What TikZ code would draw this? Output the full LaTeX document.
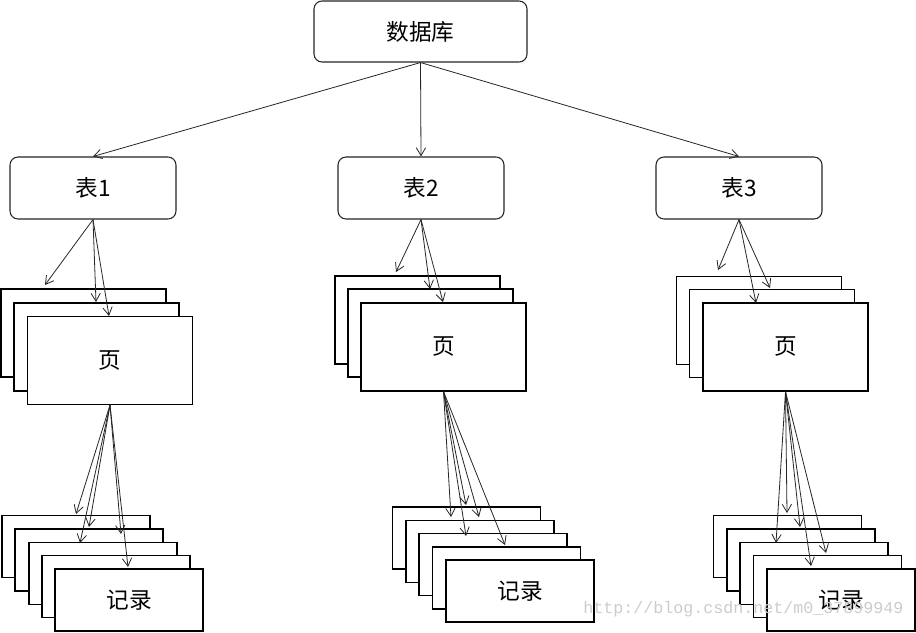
\documentclass[tikz,border=0pt]{standalone}
\usepackage{fontspec}
\setmainfont{Noto Sans CJK SC}
\newfontfamily\wmfont{Liberation Mono}
\usetikzlibrary{arrows.meta}
\tikzset{
  px/.style={x=0.75pt,y=-0.75pt},
  rbox/.style={draw=black!85,line width=0.8pt,rounded corners=6pt,fill=white,
    minimum width=124.5pt,minimum height=46.5pt,inner sep=0pt,font=\fontsize{17}{20}\selectfont},
  pagebox/.style={draw=black,line width=0.8pt,fill=white,
    minimum width=123.75pt,minimum height=66pt,inner sep=0pt,font=\fontsize{17}{20}\selectfont},
  recbox/.style={draw=black,line width=0.8pt,fill=white,
    minimum width=111pt,minimum height=46.5pt,inner sep=0pt,font=\fontsize{17}{20}\selectfont},
  arr/.style={draw=black!85,line width=0.6pt,-{Straight Barb[length=6pt,width=7pt]}}
}
\begin{document}
\begin{tikzpicture}[px]
\useasboundingbox[fill=white] (0,0) rectangle (916,632);
% top
\node[rbox,minimum width=159.75pt,minimum height=45.75pt] (db) at (420.5,31.5) {数据库};
\node[rbox] (t1) at (93,188) {表1};
\node[rbox] (t2) at (421,188) {表2};
\node[rbox] (t3) at (739,188) {表3};
% page stacks
\node[pagebox] (p1a) at (83.5,333) {};
\node[pagebox] (p1b) at (96.5,347) {};
\node[pagebox] (p1c) at (110,360.5) {页};
\node[pagebox] (p2a) at (417.5,320) {};
\node[pagebox] (p2b) at (430.5,333) {};
\node[pagebox] (p2c) at (443.5,347) {页};
\node[pagebox] (p3a) at (759,320.5) {};
\node[pagebox] (p3b) at (772,333.5) {};
\node[pagebox] (p3c) at (785.5,347) {页};
% record stacks
\node[recbox] (r1a) at (76,546.5) {};
\node[recbox] (r1b) at (89,560) {};
\node[recbox] (r1c) at (103,573.5) {};
\node[recbox] (r1d) at (116,586.5) {};
\node[recbox] (r1e) at (129,600) {记录};
\node[recbox] (r2a) at (466.5,538) {};
\node[recbox] (r2b) at (480,551.5) {};
\node[recbox] (r2c) at (493,564.5) {};
\node[recbox] (r2d) at (506.5,578) {};
\node[recbox] (r2e) at (520,591) {记录};
\node[recbox] (r3a) at (787.5,546.5) {};
\node[recbox] (r3b) at (801,560) {};
\node[recbox] (r3c) at (814,573.5) {};
\node[recbox] (r3d) at (827.5,586.5) {};
\node[recbox] (r3e) at (841,600) {记录};
% arrow end points
\coordinate (e11) at (45,285);  \coordinate (e12) at (96,302);  \coordinate (e13) at (109,316);
\coordinate (e21) at (396,272); \coordinate (e22) at (430,289); \coordinate (e23) at (443,302);
\coordinate (e31) at (718,270); \coordinate (e32) at (756,303); \coordinate (e33) at (770,288);
\coordinate (f11) at (76,514);  \coordinate (f12) at (89,527);  \coordinate (f13) at (80,543);
\coordinate (f14) at (121,534); \coordinate (f15) at (128,567);
\coordinate (f21) at (451,517); \coordinate (f22) at (466,505); \coordinate (f23) at (479,517);
\coordinate (f24) at (466,536); \coordinate (f25) at (505,545);
\coordinate (f31) at (787,513); \coordinate (f32) at (800,527); \coordinate (f33) at (776,543);
\coordinate (f34) at (826,553); \coordinate (f35) at (811,566);
% arrows
\draw[arr] (db.south) -- (t1.north);
\draw[arr] (db.south) -- (t2.north);
\draw[arr] (db.south) -- (t3.north);
\foreach \i in {1,2,3}{
  \draw[arr] (t1.south) -- (e1\i);
  \draw[arr] (t2.south) -- (e2\i);
  \draw[arr] (t3.south) -- (e3\i);
}
\foreach \i in {1,...,5}{
  \draw[arr] (p1c.south) -- (f1\i);
  \draw[arr] (p2c.south) -- (f2\i);
  \draw[arr] (p3c.south) -- (f3\i);
}
% watermark
\node[anchor=west,inner sep=0pt,text=black!20,font=\wmfont\fontsize{12.5}{14}\selectfont] (wm) at (583,609) {http://blog.csdn.net/m0\_37899949};
\end{tikzpicture}
\end{document}
